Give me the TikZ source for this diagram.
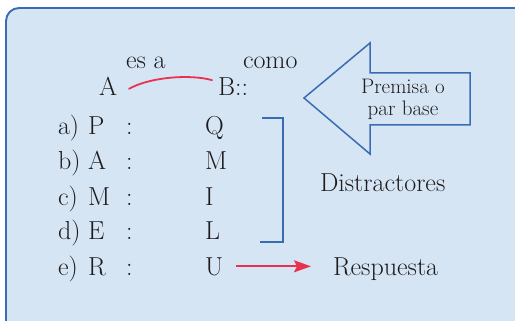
\documentclass[tikz,border=0pt]{standalone}
\usetikzlibrary{arrows.meta}
\definecolor{boxfill}{RGB}{214,229,244}
\definecolor{boxblue}{RGB}{58,108,180}
\definecolor{redc}{RGB}{232,50,78}
\definecolor{textc}{RGB}{30,27,28}
\begin{document}
\begin{tikzpicture}[x=1pt,y=-1pt,
  txt/.style={inner sep=0pt, outer sep=0pt, anchor=base west, text=textc, font=\fontsize{26}{30}\selectfont},
  small/.style={inner sep=0pt, outer sep=0pt, align=center, text=textc, font=\fontsize{21}{22}\selectfont},
  blueline/.style={draw=boxblue, line width=1.6pt},
  redline/.style={draw=redc, line width=1.8pt, line cap=round}]
\useasboundingbox (0,0) rectangle (515,321);
\clip (0,0) rectangle (515,321);
% background box
\draw[blueline, line width=1.9pt, fill=boxfill, rounded corners=13pt] (6,8) rectangle (535,340);
% top row
\node[txt] (esa) at (126,69) {es a};
\node[txt] (como) at (243,69) {como};
\node[txt] (A) at (99,96) {A};
\node[txt] (B) at (218,96) {B::};
\draw[redline] ([shift={(12,2)}]A.east) .. controls (150,77) and (190,74) .. ([shift={(-6,-7)}]B.west);
% big arrow shape
\draw[blueline, line width=1.5pt, line join=miter] (304,98) -- (370,43) -- (370,73) -- (470,73) -- (470,125) -- (370,125) -- (370,154) -- cycle;
\node[small] (prem) at (403,99) {Premisa o\\par base};
% list
\foreach \lab/\l/\r/\y/\n in {a)/P/Q/135/1, b)/A/M/170/2, c)/M/I/205/3, d)/E/L/240/4, e)/R/U/275/5}{
  \node[txt] (lab\n) at (58,\y) {\lab};
  \node[txt] (left\n) at (88,\y) {\l};
  \node[txt] (colon\n) at (126,\y) {:};
  \node[txt] (right\n) at (205,\y) {\r};
}
% bracket
\coordinate (bt) at (262,118);
\coordinate (bb) at (260,242);
\draw[blueline, line width=2pt] (bt) -- (283,118) -- (283,242) -- (bb);
\node[txt] (dist) at (320,192) {Distractores};
\node[txt] (resp) at (333,275) {Respuesta};
\draw[redline, line cap=butt, -{Stealth[length=17pt,width=12pt,inset=3pt]}] ([xshift=13pt]right5.east) -- ([xshift=-22pt]right5.east -| resp.west);
\end{tikzpicture}
\end{document}
